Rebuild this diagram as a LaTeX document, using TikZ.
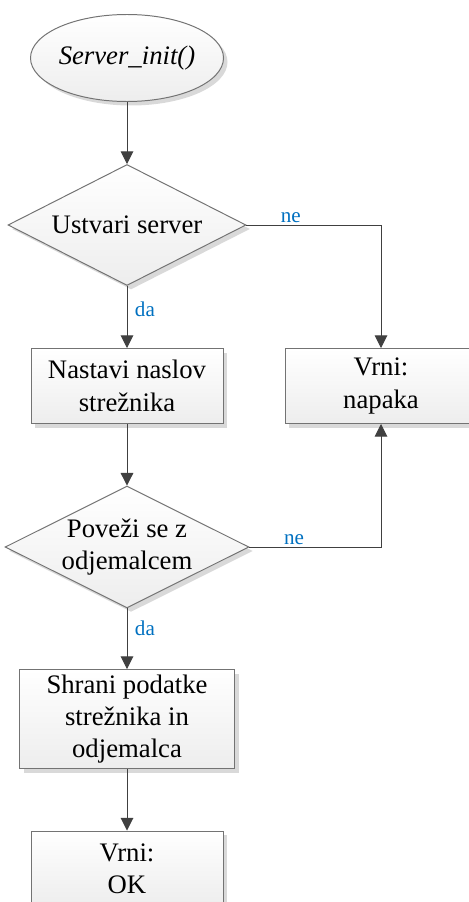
\documentclass[tikz,border=0pt]{standalone}
\usepackage{fontspec}
\setmainfont{Liberation Serif}
\usetikzlibrary{shapes.geometric,arrows.meta,shadows}

\definecolor{crta}{HTML}{404040}
\definecolor{oznaka}{HTML}{0070C0}

\tikzset{
  blok/.style={draw=black!55, line width=0.7pt, top color=white, bottom color=black!7,
    drop shadow={shadow xshift=0.1cm, shadow yshift=-0.1cm, fill=black!15, opacity=1},
    align=center, font=\fontsize{19}{23}\selectfont, inner sep=0pt},
  korak/.style={blok, rectangle, minimum width=4.8cm, minimum height=1.875cm},
  odlocitev/.style={blok, diamond, minimum width=5.95cm, minimum height=3.025cm, aspect=2},
  zacetek/.style={blok, ellipse, minimum width=4.375cm, minimum height=2.175cm},
  pot/.style={draw=crta, line width=0.7pt, -{Triangle[width=9pt,length=9pt]}},
  veja/.style={text=oznaka, font=\fontsize{15}{18}\selectfont}
}

\begin{document}
\begin{tikzpicture}
    \useasboundingbox (0,0) rectangle (11.725,-22.55);

    % Bloki
    \node[zacetek] (init) at (3.175,-1.45) {\itshape Server\_init()};
    \node[odlocitev] (ustvari) at (3.175,-5.625) {Ustvari server};
    \node[korak] (naslov) at (3.175,-9.65) {Nastavi naslov\\strežnika};
    \node[korak] (napaka) at (9.525,-9.65) {Vrni:\\napaka};
    \node[odlocitev, minimum height=3cm] (povezi) at (3.175,-13.675) {Poveži se z\\odjemalcem};
    \node[korak, minimum width=5.375cm, minimum height=2.475cm] (shrani) at (3.175,-17.975) {Shrani podatke\\strežnika in\\odjemalca};
    \node[korak] (ok) at (3.175,-21.7125) {Vrni:\\OK};

    % Povezave
    \draw[pot] (init) -- (ustvari);
    \draw[pot] (ustvari) -- node[veja, right=2pt, pos=0.38] (da1) {da} (naslov);
    \draw[pot] (ustvari.east) -| node[veja, above=-2pt, pos=0.165] (ne1) {ne} (napaka.north);
    \draw[pot] (naslov) -- (povezi);
    \draw[pot] (povezi.east) -| node[veja, above=-2pt, pos=0.17] (ne2) {ne} (napaka.south);
    \draw[pot] (povezi) -- node[veja, right=2pt, pos=0.32] (da2) {da} (shrani);
    \draw[pot] (shrani) -- (ok);
\end{tikzpicture}
\end{document}
